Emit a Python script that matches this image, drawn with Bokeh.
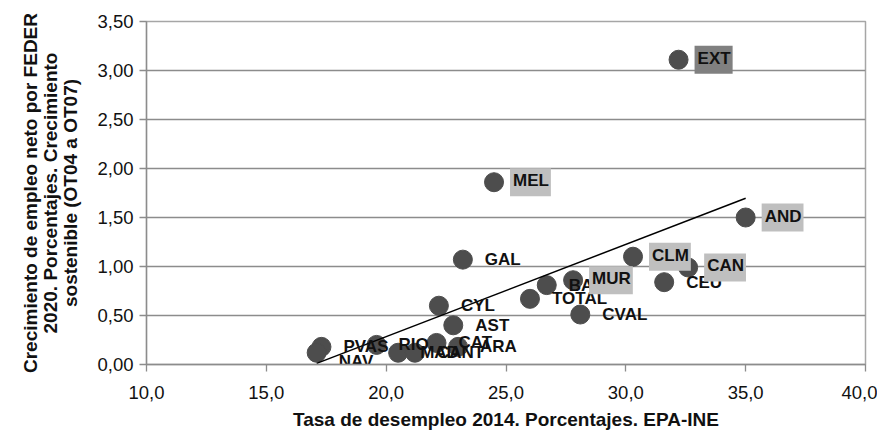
from bokeh.plotting import figure
from bokeh.models import ColumnDataSource, FixedTicker, Range1d
from bokeh.core.properties import value
from bokeh.embed import file_html
from bokeh.resources import INLINE
import numpy as np

# ---- data ----
regions = ["EXT", "MEL", "AND", "GAL", "CLM", "CAN", "CEU", "BAL", "MUR", "TOTAL",
           "CVAL", "CYL", "AST", "PVAS", "NAV", "RIO", "MAD", "CANT", "CAT", "ARA"]
paro_2014 = [32.2, 24.5, 35.0, 23.2, 30.3, 32.6, 31.6, 26.7, 27.8, 26.0,
             28.1, 22.2, 22.8, 17.3, 17.1, 19.6, 20.5, 21.2, 22.1, 23.0]
crec_empleo = [3.11, 1.86, 1.50, 1.07, 1.10, 0.99, 0.84, 0.81, 0.86, 0.67,
               0.51, 0.60, 0.40, 0.18, 0.12, 0.20, 0.12, 0.12, 0.22, 0.18]
label_style = ["dark", "light", "light", "none", "light", "light", "none", "none", "light", "none",
               "none", "none", "none", "none", "none", "none", "none", "none", "none", "none"]
label_dy = [0, 0, 0, 0, 0, 0, 0, 0, 0, 0,
            0, 0, 0, 0, 9, 0, 0, 0, 0, 0]

x_ticks = [10, 15, 20, 25, 30, 35, 40]
y_ticks = [0, 0.5, 1.0, 1.5, 2.0, 2.5, 3.0, 3.5]
x_title = "Tasa de desempleo 2014. Porcentajes. EPA-INE"
y_title = "Crecimiento de empleo neto por FEDER\n2020. Porcentajes. Crecimiento\nsostenible (OT04 a OT07)"

FONT = "Liberation Sans"
TXT = "#111111"
GRID = "#8c8c8c"

p = figure(width=877, height=432, x_range=Range1d(10, 40), y_range=Range1d(0, 3.5),
           output_backend="svg", toolbar_location=None,
           min_border_left=146, min_border_right=12, min_border_top=21, min_border_bottom=68)
p.background_fill_color = "white"
p.border_fill_color = "white"
p.outline_line_color = "#a6a6a6"
p.outline_line_width = 1.5

p.xgrid.grid_line_color = None
p.ygrid.grid_line_color = GRID
p.ygrid.grid_line_width = 1.3
p.ygrid.ticker = FixedTicker(ticks=y_ticks)

# axes
p.xaxis.ticker = FixedTicker(ticks=x_ticks)
p.xaxis.major_label_overrides = {t: f"{t:.1f}".replace(".", ",") for t in x_ticks}
p.yaxis.ticker = FixedTicker(ticks=y_ticks)
p.yaxis.major_label_overrides = {t: f"{t:.2f}".replace(".", ",") for t in y_ticks}
for ax in (p.xaxis, p.yaxis):
    ax.axis_line_color = GRID
    ax.axis_line_width = 1.3
    ax.major_tick_line_color = GRID
    ax.major_tick_line_width = 1.3
    ax.major_tick_out = 7
    ax.major_tick_in = 0
    ax.minor_tick_line_color = None
    ax.major_label_text_font = FONT
    ax.major_label_text_font_size = "18.5px"
    ax.major_label_text_color = TXT
    ax.axis_label_text_font = FONT
    ax.axis_label_text_font_style = "bold"
    ax.axis_label_text_font_size = "19px"
    ax.axis_label_text_color = TXT
p.xaxis.major_label_standoff = 14
p.yaxis.major_label_standoff = 6
p.xaxis.axis_label = x_title
p.xaxis.axis_label_standoff = 7
p.yaxis.axis_label = y_title
p.yaxis.axis_label_standoff = 13
p.yaxis.axis_label_text_line_height = 0.97

# points
p.scatter(paro_2014, crec_empleo, size=19, fill_color="#4d4d4d", line_color="#4d4d4d")

# linear trend line fitted to the data
xs = np.array(paro_2014)
ys = np.array(crec_empleo)
slope, intercept = np.polyfit(xs, ys, 1)
tx = np.array([xs.min(), xs.max()])
p.line(tx, slope * tx + intercept, line_color="black", line_width=1.5)

# data labels
bg = {"none": None, "light": "#bfbfbf", "dark": "#808080"}
for style in ("none", "light", "dark"):
    idx = [i for i, s in enumerate(label_style) if s == style]
    s = ColumnDataSource(dict(x=[paro_2014[i] for i in idx], y=[crec_empleo[i] for i in idx],
                              name=[regions[i] for i in idx], dy=[label_dy[i] for i in idx]))
    kw = dict(x_offset=22)
    if bg[style] is not None:
        kw = dict(x_offset=16, background_fill_color=bg[style], background_fill_alpha=1.0,
                  padding=[3, 2, 3, 6])
    p.text(x="x", y="y", text="name", source=s, y_offset="dy",
           text_font=value(FONT), text_font_style="bold", text_font_size="17px",
           text_color=TXT, text_baseline="middle", text_align="left", **kw)

open("out.html", "w").write(file_html(p, INLINE))
